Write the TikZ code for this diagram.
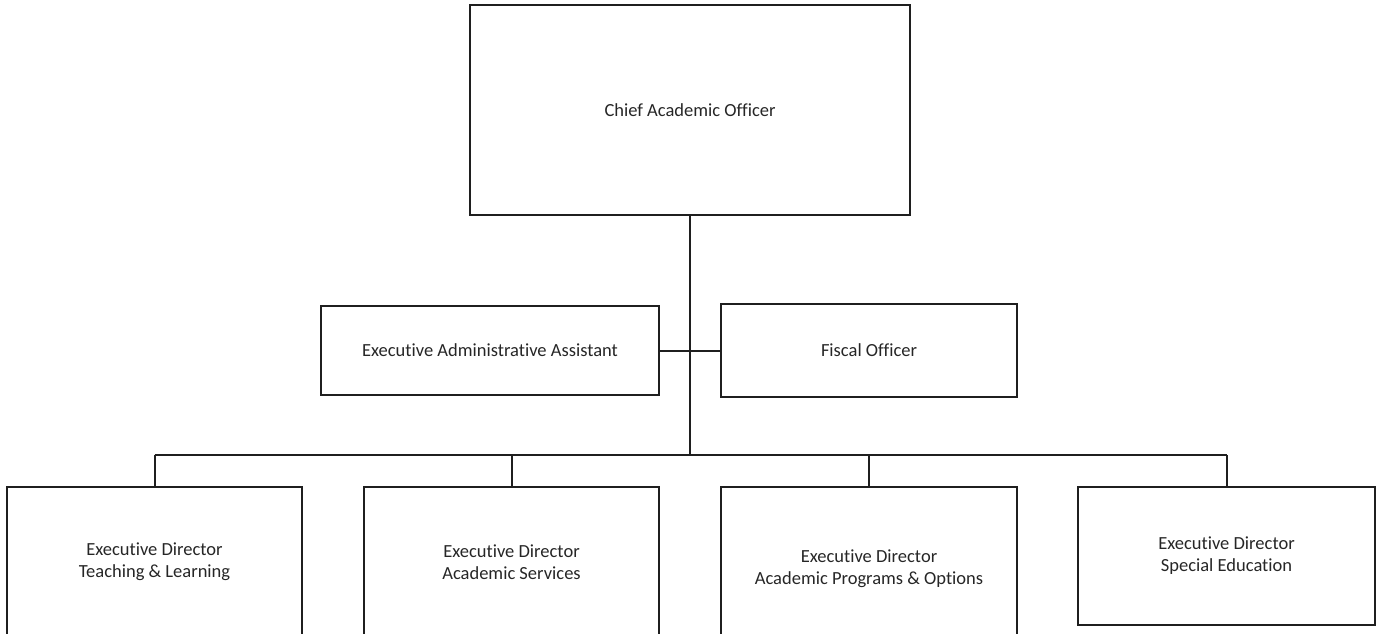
\documentclass[tikz,border=0pt]{standalone}
\usepackage{fontspec}
\setmainfont{Carlito}[Ligatures=NoCommon]
\tikzset{
  orgbox/.style={draw=black!88, line width=1.7pt, rectangle, align=center, inner sep=0pt,
    font=\fontsize{18.5}{22}\selectfont, text=black!85},
  link/.style={draw=black!88, line width=2pt}
}
\begin{document}
\begin{tikzpicture}[x=1pt,y=-1pt]
\useasboundingbox (0,0) rectangle (1391,633);
\clip (0,0) rectangle (1391,633);
\node[orgbox, minimum width=440pt, minimum height=210pt] (cao) at (690,110) {Chief Academic Officer};
\node[orgbox, minimum width=338pt, minimum height=89pt] (eaa) at (490,350.5) {Executive Administrative Assistant};
\node[orgbox, minimum width=296pt, minimum height=93pt] (fo) at (869,350.5) {Fiscal Officer};
\node[orgbox, minimum width=295pt, minimum height=150pt] (ed1) at (154.5,562) {Executive Director\\Teaching \& Learning};
\node[orgbox, minimum width=295pt, minimum height=150pt] (ed2) at (511.5,562) {Executive Director\\Academic Services};
\node[orgbox, minimum width=296pt, minimum height=164pt] (ed3) at (869,569) {Executive Director\\Academic Programs \& Options};
\node[orgbox, minimum width=297pt, minimum height=138pt] (ed4) at (1226.5,556) {Executive Director\\Special Education};
\coordinate (hub) at (690,455);
\coordinate (b1) at (154.5,455);
\coordinate (b4) at (1226.5,455);
\draw[link] (cao.south) -- (hub);
\draw[link] (eaa.east) -- (fo.west);
\draw[link] (b1) -- (b4);
\draw[link] (b1) -- (ed1.north);
\draw[link] (ed2.north |- hub) -- (ed2.north);
\draw[link] (ed3.north |- hub) -- (ed3.north);
\draw[link] (b4) -- (ed4.north);
\end{tikzpicture}
\end{document}
